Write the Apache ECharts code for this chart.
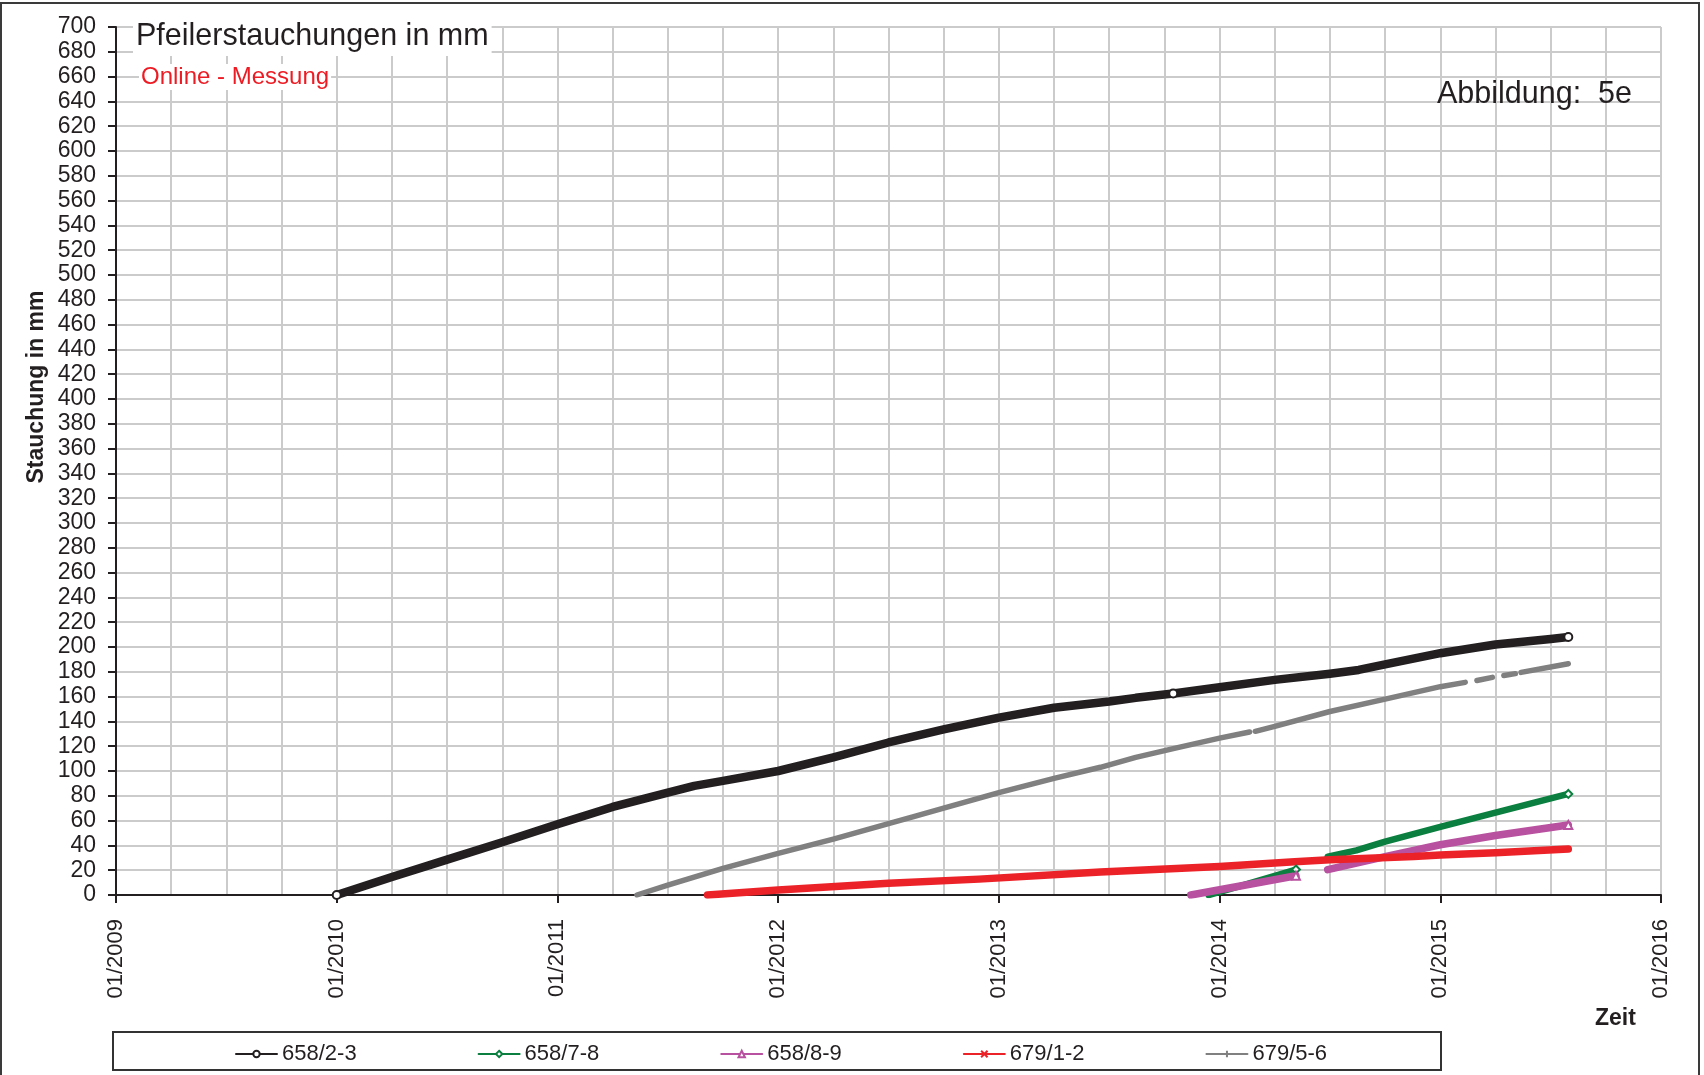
<!DOCTYPE html>
<html>
<head>
<meta charset="utf-8">
<title>Pfeilerstauchungen in mm</title>
<script src="https://cdn.jsdelivr.net/npm/echarts@6/dist/echarts.min.js"></script>
<style>
  html, body { margin: 0; padding: 0; background: #fff; }
  #chart { width: 1704px; height: 1075px; }
</style>
</head>
<body>
<div id="chart"></div>
<script>
// Pillar compression (mm) over time, decimal year on x; null breaks a line.
const s658_23 = [
  [2010.0, 0], [2010.25, 14.5], [2010.5, 28.5], [2010.75, 42.5], [2011.0, 57],
  [2011.25, 71], [2011.5, 82.5], [2011.62, 88], [2011.75, 92], [2012.0, 100],
  [2012.25, 111], [2012.5, 123], [2012.75, 133.5], [2013.0, 143], [2013.25, 151],
  [2013.5, 156], [2013.62, 159], [2013.79, 162.5], [2014.0, 167.5], [2014.25, 173.5],
  [2014.5, 178.5], [2014.63, 181.5], [2014.75, 186], [2015.0, 195], [2015.25, 202],
  [2015.5, 206.5], [2015.58, 208]
];
const s658_78 = [
  [2013.95, 0], [2014.1, 7.5], [2014.346, 20.5], [2014.42, null],
  [2014.49, 31], [2014.62, 36], [2014.75, 43], [2015.0, 55], [2015.25, 66.5], [2015.58, 81.5]
];
const s658_89 = [
  [2013.87, 0], [2014.1, 7.5], [2014.346, 15.5], [2014.42, null],
  [2014.49, 20.5], [2014.75, 31], [2015.0, 40.5], [2015.25, 48], [2015.58, 56.5]
];
const s679_12 = [
  [2011.68, 0], [2012.0, 4], [2012.5, 9.5], [2012.91, 12.8], [2013.46, 18.5],
  [2014.0, 23], [2014.34, 26.8], [2014.5, 28.5], [2014.88, 31], [2015.0, 32.3],
  [2015.25, 34], [2015.58, 37]
];
const s679_56 = [
  [2011.36, 0], [2011.5, 8], [2011.75, 21.5], [2012.0, 33.5], [2012.25, 45],
  [2012.5, 57.5], [2012.61, 63], [2012.75, 70], [2013.0, 82.5], [2013.25, 94],
  [2013.46, 103], [2013.62, 111], [2013.8, 118.5], [2014.0, 126.5], [2014.136, 131.5],
  [2014.15, null], [2014.162, 132], [2014.25, 136], [2014.5, 148], [2014.75, 158],
  [2015.0, 168], [2015.113, 171.5], [2015.14, null], [2015.166, 173], [2015.236, 175.5],
  [2015.26, null], [2015.288, 177], [2015.34, 178.5], [2015.35, null], [2015.366, 179.5],
  [2015.58, 186.5]
];

const seriesNames = ['658/2-3', '658/7-8', '658/8-9', '679/1-2', '679/5-6'];
const xTickLabels = ['01/2009', '01/2010', '01/2011', '01/2012', '01/2013', '01/2014', '01/2015', '01/2016'];

// x positions where a point marker is drawn on each curve
const markerAt = {
  '658/2-3': [2010.0, 2013.79, 2015.58],
  '658/7-8': [2014.346, 2015.58],
  '658/8-9': [2014.346, 2015.58],
  '679/1-2': [],
  '679/5-6': []
};

const FONT = "'Liberation Sans', Arial, Helvetica, sans-serif";
const INK = '#231f20';

function lineSeries(name, data, color, width, symbol) {
  return {
    name: name,
    type: 'line',
    data: data,
    connectNulls: false,
    symbol: symbol,
    showSymbol: true,
    symbolSize: function (v) {
      return markerAt[name].indexOf(v[0]) >= 0 ? 8 : 0;
    },
    lineStyle: { color: color, width: width, cap: 'round', join: 'round' },
    itemStyle: { color: color, borderColor: color, borderWidth: 1.6 },
    emphasis: { disabled: true },
    animation: false,
    z: 3
  };
}

const chart = echarts.init(document.getElementById('chart'), null, { renderer: 'canvas' });

chart.setOption({
  backgroundColor: '#ffffff',
  animation: false,
  grid: { left: 116, right: 43, top: 27, bottom: 180 },
  xAxis: {
    type: 'value',
    min: 2009,
    max: 2016,
    interval: 1,
    axisLine: { show: true, onZero: false, lineStyle: { color: INK, width: 2 } },
    axisTick: { show: true, length: 8, lineStyle: { color: INK, width: 2 } },
    minorTick: { show: false, splitNumber: 4 },
    splitLine: { show: true, lineStyle: { color: '#cbcbcb', width: 2 } },
    minorSplitLine: { show: true, lineStyle: { color: '#cbcbcb', width: 2 } },
    axisLabel: {
      rotate: 90,
      margin: 24,
      color: INK,
      fontFamily: FONT,
      fontSize: 22,
      formatter: function (v, i) { return xTickLabels[i]; }
    }
  },
  yAxis: {
    type: 'value',
    min: 0,
    max: 700,
    interval: 20,
    axisLine: { show: true, lineStyle: { color: INK, width: 2 } },
    axisTick: { show: true, length: 8, lineStyle: { color: INK, width: 2 } },
    splitLine: { show: true, lineStyle: { color: '#cbcbcb', width: 2 } },
    axisLabel: { color: INK, fontFamily: FONT, fontSize: 23, margin: 20 }
  },
  legend: {
    data: seriesNames,
    left: 230,
    top: 1038,
    itemWidth: 41,
    itemHeight: 8,
    itemGap: 121,
    selectedMode: false,
    textStyle: { color: INK, fontFamily: FONT, fontSize: 22 },
    lineStyle: { width: 2 }
  },
  series: [
    lineSeries(seriesNames[0], s658_23, '#231f20', 8.5, 'emptyCircle'),
    lineSeries(seriesNames[1], s658_78, '#0a7f3f', 6.5, 'emptyDiamond'),
    lineSeries(seriesNames[2], s658_89, '#b8519f', 7.5, 'emptyTriangle'),
    lineSeries(seriesNames[3], s679_12, '#ec2229', 7.5, 'path://M0,0L10,10M10,0L0,10'),
    lineSeries(seriesNames[4], s679_56, '#808080', 5.5, 'path://M5,0L5,10M0,5L10,5')
  ],
  graphic: [
    {
      type: 'rect', silent: true, z: 0,
      shape: { x: 1, y: 3, width: 1698, height: 1090 },
      style: { fill: 'none', stroke: '#3a3a3a', lineWidth: 2 }
    },
    {
      type: 'rect', silent: true, z: 10,
      shape: { x: 113, y: 1032, width: 1328, height: 38 },
      style: { fill: 'none', stroke: '#333333', lineWidth: 2 }
    },
    {
      type: 'text', silent: true, z: 10, left: 133, top: 19,
      style: {
        text: 'Pfeilerstauchungen in mm', fill: INK, font: '30.5px ' + FONT,
        backgroundColor: '#ffffff', padding: [2, 3, 4, 3]
      }
    },
    {
      type: 'text', silent: true, z: 10, left: 139, top: 64,
      style: {
        text: 'Online - Messung', fill: '#ed1c24', font: '24px ' + FONT,
        backgroundColor: '#ffffff', padding: [1, 2, 1, 2]
      }
    },
    {
      type: 'text', silent: true, z: 10, left: 1437, top: 79,
      style: { text: 'Abbildung:  5e', fill: INK, font: '30.5px ' + FONT }
    },
    {
      type: 'text', silent: true, z: 10, x: 37, y: 387, rotation: Math.PI / 2,
      style: {
        text: 'Stauchung in mm', fill: INK, font: 'bold 23px ' + FONT,
        align: 'center', verticalAlign: 'middle'
      }
    },
    {
      type: 'text', silent: true, z: 10, left: 1595, top: 1007,
      style: { text: 'Zeit', fill: INK, font: 'bold 23px ' + FONT }
    }
  ]
});
</script>
</body>
</html>
